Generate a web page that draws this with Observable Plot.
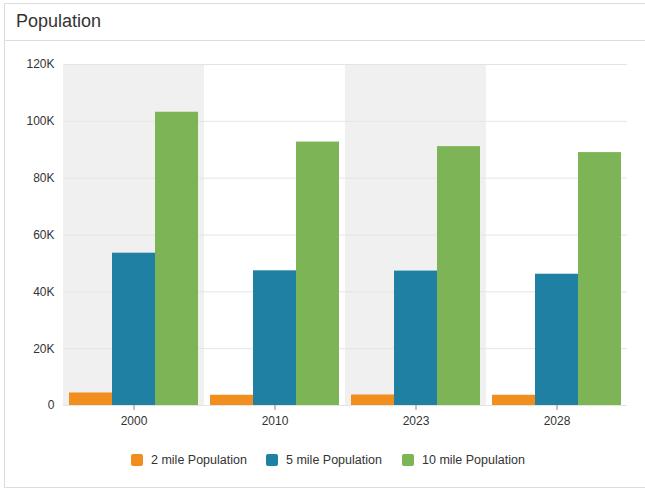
<!DOCTYPE html>
<html>
<head>
<meta charset="utf-8">
<script src="https://cdn.jsdelivr.net/npm/d3@7"></script>
<script src="https://cdn.jsdelivr.net/npm/@observablehq/plot@0.6"></script>
<style>
  html, body { margin: 0; padding: 0; background: #fff; width: 645px; height: 491px; overflow: hidden; font-family: "Liberation Sans", Arial, sans-serif; }
  #card { position: absolute; left: 4px; top: 3px; width: 660px; height: 485px; border: 1px solid #dcdcdc; box-sizing: border-box; background: #fff; }
  #title { position: absolute; left: 0; top: 0; width: 100%; height: 37px; border-bottom: 1px solid #dcdcdc; box-sizing: border-box; }
  #title span { position: absolute; left: 11px; top: 7px; font-size: 18px; color: #333; }
  #chart { position: absolute; left: 0; top: 41px; }
  #legend { position: absolute; left: 0; top: 453px; width: 645px; font-size: 12.5px; color: #333; }
  .item { position: absolute; top: 0; display: flex; align-items: center; }
  .sw { width: 12px; height: 12px; border-radius: 2px; margin-right: 8px; }
</style>
</head>
<body>
<div id="card"><div id="title"><span>Population</span></div></div>
<div id="chart"></div>
<div id="legend"></div>
<script>
const years = ["2000", "2010", "2023", "2028"];
const series = ["2 mile Population", "5 mile Population", "10 mile Population"];
const colors = ["#f28e1e", "#1f80a3", "#7cb456"];
const pop2 = [4400, 3600, 3700, 3600];
const pop5 = [53600, 47400, 47300, 46200];
const pop10 = [103200, 92700, 91100, 89000];
const yTicks = [0, 20000, 40000, 60000, 80000, 100000, 120000];
const yTickLabels = ["0", "20K", "40K", "60K", "80K", "100K", "120K"];

const seriesValues = [pop2, pop5, pop10];
const data = [];
years.forEach((yr, i) => series.forEach((s, j) => data.push({year: yr, series: s, value: seriesValues[j][i]})));
const bands = years.map((yr, i) => ({year: yr, shade: i % 2 === 0}));

const chart = Plot.plot({
  width: 645,
  height: 398,
  marginLeft: 62,
  marginRight: 17,
  marginTop: 23,
  marginBottom: 34,
  style: {fontFamily: "'Liberation Sans', Arial, sans-serif", fontSize: "12px", color: "#333", background: "transparent"},
  fx: {domain: years, padding: 0, label: null, axis: null},
  x: {domain: series, paddingInner: 0, paddingOuter: 0.11, axis: null},
  y: {domain: [0, 120000], label: null},
  color: {domain: series, range: colors},
  marks: [
    Plot.barY(bands, {fx: "year", y1: 0, y2: 120000, fill: d => d.shade ? "#f0f0f0" : "#ffffff"}),
    Plot.gridY(yTicks, {stroke: "#e4e4e4", strokeOpacity: 1}),
    Plot.axisY(yTicks, {tickSize: 0, tickPadding: 9, tickFormat: d => yTickLabels[yTicks.indexOf(d)], label: null, fill: "#333"}),
    Plot.barY(data, {fx: "year", x: "series", y: "value", fill: "series"}),
    Plot.axisFx({anchor: "bottom", tickSize: 5, tickPadding: 6, label: null, stroke: "#888", fill: "#333"})
  ]
});
document.getElementById("chart").appendChild(chart);

const legend = document.getElementById("legend");
const lefts = [131, 266, 402];
series.forEach((s, i) => {
  const it = document.createElement("div");
  it.className = "item";
  it.style.left = lefts[i] + "px";
  it.innerHTML = `<div class="sw" style="background:${colors[i]}"></div><span>${s}</span>`;
  legend.appendChild(it);
});
</script>
</body>
</html>
